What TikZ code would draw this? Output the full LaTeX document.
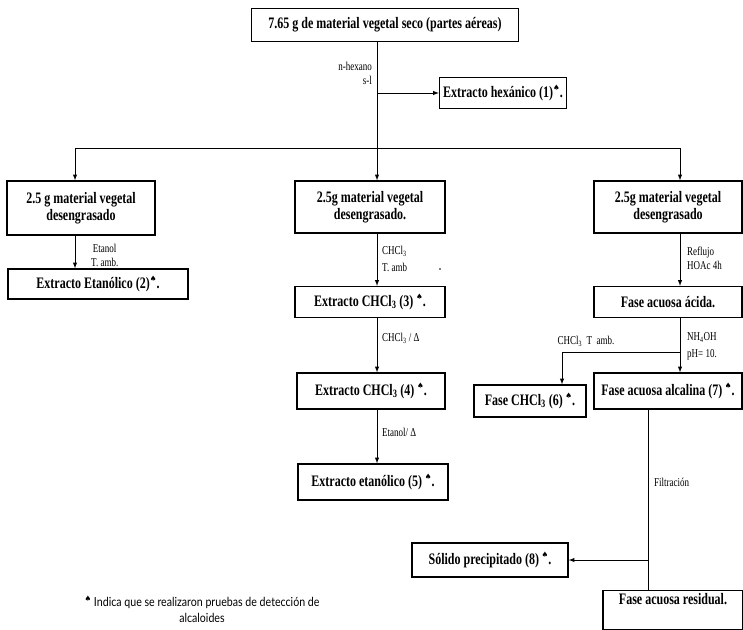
\documentclass[tikz,border=0pt]{standalone}
\usepackage{fontspec}
\setmainfont{Liberation Serif}[FakeStretch=0.75]
\newfontfamily\notafont{Lato}[FakeStretch=0.85]
\newfontfamily\symfont{DejaVu Sans}
\newcommand{\alc}{\raisebox{0.85ex}{\symfont\fontsize{7.5}{7.5}\selectfont ♠}}

\begin{document}
\begin{tikzpicture}[x=1pt,y=-1pt,>=latex,
        caja/.style={draw,line width=1.3pt,align=center,inner sep=3pt,
            font=\fontsize{16}{17}\selectfont\bfseries},
        etiq/.style={inner sep=1pt,align=left,
            font=\fontsize{12}{14}\selectfont},
        flecha/.style={line width=1pt}]

\useasboundingbox (0,0) rectangle (743,629);

\node[caja,minimum width=267pt,minimum height=33pt] (top) at (385,25) {7.65 g de material vegetal seco (partes aéreas)};
\node[caja,minimum width=127pt,minimum height=31pt] (hex) at (503,93) {Extracto hexánico (1)\alc.};

\node[caja,minimum width=148pt,minimum height=54pt] (mat1) at (81,208) {2.5 g material vegetal\\desengrasado};
\node[caja,minimum width=150pt,minimum height=52pt] (mat2) at (370,207) {2.5g material vegetal\\desengrasado.};
\node[caja,minimum width=148pt,minimum height=52pt] (mat3) at (668,207) {2.5g material vegetal\\desengrasado};

\node[caja,minimum width=180pt,minimum height=30pt] (ext2) at (98,284) {Extracto Etanólico (2)\alc.};
\node[caja,minimum width=150pt,minimum height=31pt] (ext3) at (370,302) {Extracto CHCl\textsubscript{3} (3)\,\alc.};
\node[caja,minimum width=148pt,minimum height=36pt] (ext4) at (371,391) {Extracto CHCl\textsubscript{3} (4)\,\alc.};
\node[caja,minimum width=150pt,minimum height=36pt] (ext5) at (373,482) {Extracto etanólico (5)\,\alc.};

\node[caja,minimum width=148pt,minimum height=31pt] (acida) at (668,302) {Fase acuosa ácida.};
\node[caja,minimum width=148pt,minimum height=36pt] (alcalina) at (668,391) {Fase acuosa alcalina (7)\,\alc.};
\node[caja,minimum width=112pt,minimum height=32pt] (fase6) at (530,401) {Fase CHCl\textsubscript{3} (6)\,\alc.};
\node[caja,minimum width=156pt,minimum height=34pt] (solido) at (490,560) {Sólido precipitado (8)\,\alc.};
\node[caja,minimum width=140pt,anchor=north,text height=11pt,text depth=22pt] (residual) at (673,590) {Fase acuosa residual.};

\coordinate (hexsplit) at (377,93);
\coordinate (split) at (377,148);
\coordinate (c1) at (75,148);
\coordinate (c3) at (680,148);
\coordinate (nh) at (680,352);
\coordinate (c6) at (562,352);
\coordinate (filt) at (648,560);

\draw[flecha] (top.south -| split) -- (split);
\draw[flecha,->] (hexsplit) -- (hex);
\draw[flecha] (c1) -- (c3);
\draw[flecha,->] (c1) -- (c1 |- mat1.north);
\draw[flecha,->] (split) -- (split |- mat2.north);
\draw[flecha,->] (c3) -- (c3 |- mat3.north);

\draw[flecha,->] (mat1.south -| c1) -- (ext2.north -| c1);
\draw[flecha,->] (mat2.south -| split) -- (ext3.north -| split);
\draw[flecha,->] (ext3.south -| split) -- (ext4.north -| split);
\draw[flecha,->] (ext4.south -| split) -- (ext5.north -| split);

\draw[flecha,->] (mat3.south -| c3) -- (acida.north -| c3);
\draw[flecha,->] (acida.south -| c3) -- (alcalina.north -| c3);
\draw[flecha] (nh) -- (c6);
\draw[flecha,->] (c6) -- (c6 |- fase6.north);
\draw[flecha] (alcalina.south -| filt) -- (residual.north -| filt);
\draw[flecha,->] (filt) -- (solido);

\node[etiq,anchor=east,align=right] (lhex) at (373,73) {n-hexano\\s-l};
\node[etiq,anchor=west,align=center] (l1) at (90,255) {Etanol\\T. amb.};
\node[etiq,anchor=west] (l2) at (381,259) {CHCl\textsubscript{3}\\[3pt]T. amb};
\fill (440,269) circle (0.9pt);
\node[etiq,anchor=west] (l3) at (381,338) {CHCl\textsubscript{3} / Δ};
\node[etiq,anchor=west] (l4) at (381,432) {Etanol/ Δ};
\node[etiq,anchor=west] (l5) at (686,258) {Reflujo\\HOAc 4h};
\node[etiq,anchor=west] (l6) at (686,346) {NH\textsubscript{4}OH\\[3pt]pH= 10.};
\node[etiq] (l7) at (586,341) {CHCl\textsubscript{3}\ \ T\ \ amb.};
\node[etiq,anchor=west] (l8) at (653,482) {Filtración};

\node[align=center,inner sep=1pt,font=\notafont\fontsize{12.5}{16}\selectfont] (nota) at (202,609) {\alc\ Indica que se realizaron pruebas de detección de\\alcaloides};
\end{tikzpicture}
\end{document}
